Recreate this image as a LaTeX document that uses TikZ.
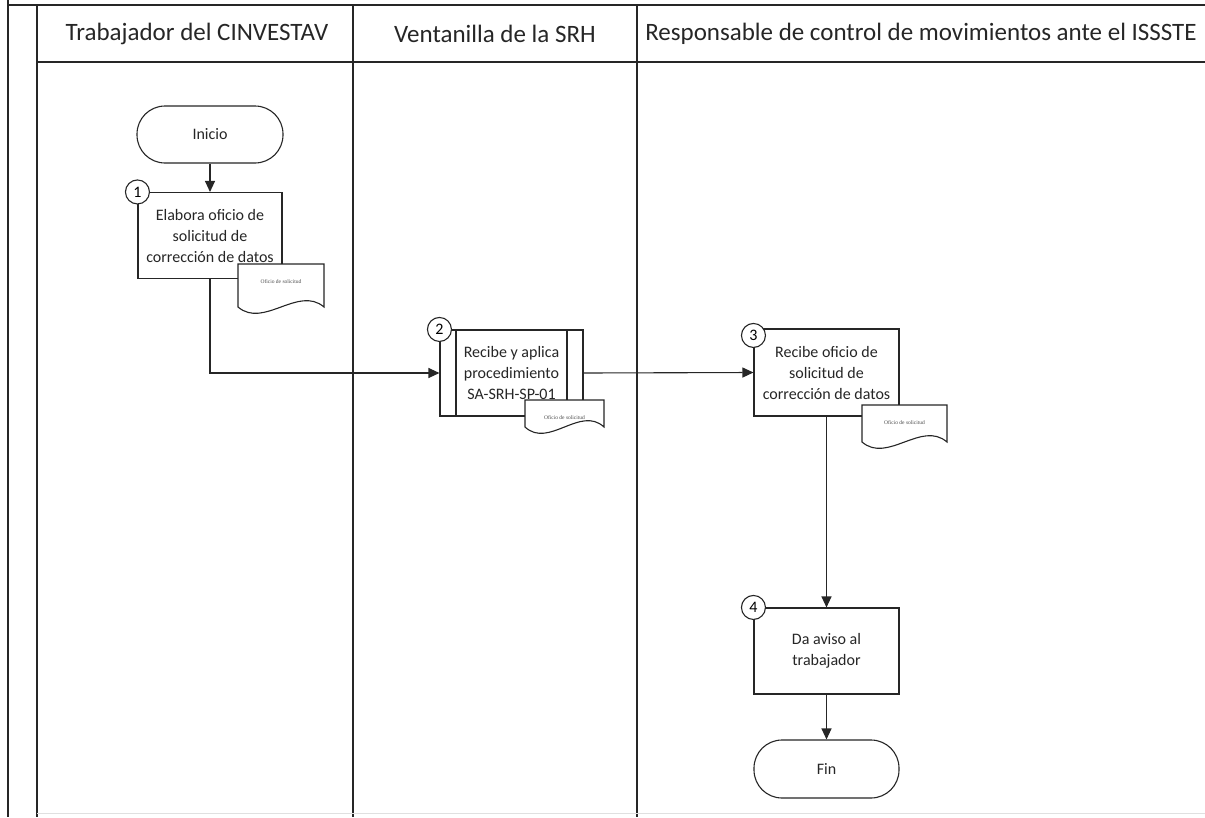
\documentclass[tikz,border=0pt]{standalone}
\usepackage{fontspec}
\setmainfont{Carlito}
\newfontfamily\docfont{Liberation Serif}
\usetikzlibrary{arrows.meta}

\begin{document}
\begin{tikzpicture}[x=1pt,y=-1pt,
  lane/.style={line width=1.2pt,draw=black!85},
  hdr/.style={font=\fontsize{25}{30}\selectfont,text=black!85},
  proc/.style={draw=black!85,fill=white,line width=1.1pt,align=center,
    minimum width=144pt,minimum height=86pt,inner sep=2pt,
    font=\fontsize{16}{21}\selectfont,text=black!85},
  term/.style={draw=black!85,fill=white,line width=1.1pt,
    minimum width=146pt,minimum height=57pt,rounded corners=28pt,
    font=\fontsize{16}{19}\selectfont,text=black!85},
  num/.style={circle,draw=black!85,fill=white,line width=1.1pt,
    minimum size=24pt,inner sep=0pt,font=\fontsize{16}{17}\selectfont},
  flow/.style={line width=1.1pt,draw=black!85,
    -{Triangle[length=11pt,width=10pt]}},
  docshape/.style={draw=black!85,fill=white,line width=1.1pt}
]
\useasboundingbox (0,0) rectangle (1205,817);

% pool frame and lanes
\draw[lane] (8,0) -- (8,817);
\draw[lane] (8,5) -- (1205,5);
\draw[lane] (37,5) -- (37,817);
\draw[lane] (37,62) -- (1205,62);
\draw[lane] (353,5) -- (353,817);
\draw[lane] (637,5) -- (637,817);
\draw[black!12,line width=1pt] (37,813) -- (1205,813);

\node[hdr] (h1) at (197,34) {Trabajador del CINVESTAV};
\node[hdr] (h2) at (495,34) {Ventanilla de la SRH};
\node[hdr] (h3) at (921,34) {Responsable de control de movimientos ante el ISSSTE};

% activities
\node[term] (ini) at (210,134.5) {Inicio};
\node[proc] (a1) at (210,235.5) {Elabora oficio de\\solicitud de\\corrección de datos};
\node[proc,minimum width=143pt] (a2) at (511.5,373) {Recibe y aplica\\procedimiento\\SA-SRH-SP-01};
\draw[line width=1.1pt,black!85] (456,330) -- (456,416) (567,330) -- (567,416);
\node[proc,minimum width=145pt,minimum height=87pt] (a3) at (826.5,372.5) {Recibe oficio de\\solicitud de\\corrección de datos};
\node[proc,minimum width=145pt] (a4) at (826.5,651) {Da aviso al\\trabajador};
\node[term,minimum width=145pt,minimum height=58pt] (fin) at (826.5,769) {Fin};

% attached documents: flat top, wavy lower edge
\newcommand{\docsheet}[5]{%
  \draw[docshape] (#1,#2) -- (#3,#2) -- (#3,#4)
    .. controls (#3-0.3*#3+0.3*#1,#4-22) and (#1+0.3*#3-0.3*#1,#4+22) .. (#1,#4) -- cycle;
  \node[font=\docfont\fontsize{5.5}{6}\selectfont,text=black!70] at ({(#1+#3)/2},#2+18) {#5};}
\docsheet{238}{264}{324}{307}{Oficio de solicitud}
\docsheet{525}{400}{604}{427}{Oficio de solicitud}
\docsheet{862}{405}{947}{442}{Oficio de solicitud}

% step numbers
\node[num] (n1) at (a1.north west) {1};
\node[num] (n2) at (a2.north west) {2};
\node[num] (n3) at ([yshift=-7pt]a3.north west) {3};
\node[num] (n4) at (a4.north west) {4};

% connectors
\draw[flow] (ini) -- (a1);
\draw[flow] (a1.south) |- (a2.west);
\draw[flow] (a2.east) -- (a3.west);
\draw[flow] (a3.south) -- (a4.north);
\draw[flow] (a4) -- (fin);
\end{tikzpicture}
\end{document}
